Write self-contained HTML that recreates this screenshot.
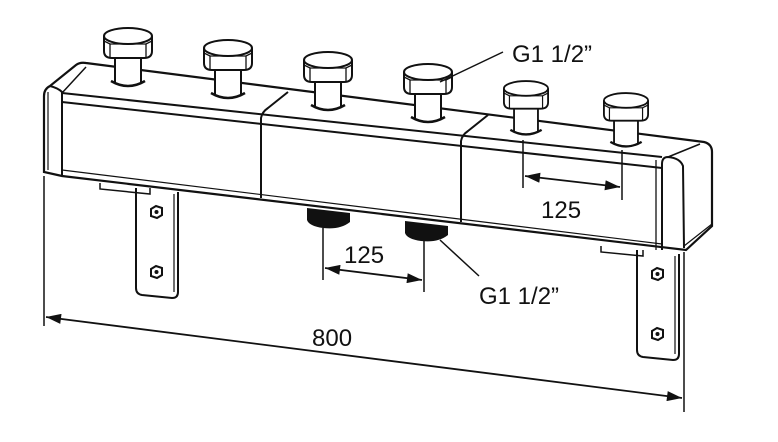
<!DOCTYPE html>
<html><head><meta charset="utf-8"><style>
html,body{margin:0;padding:0;background:#fff;}
svg{display:block;}
text{font-family:"Liberation Sans","DejaVu Sans",sans-serif;fill:#111;}
</style></head><body>
<svg width="778" height="442" viewBox="0 0 778 442" xmlns="http://www.w3.org/2000/svg">
<defs>
<marker id="ar" viewBox="0 0 12 8" refX="12" refY="4" markerWidth="18" markerHeight="10" markerUnits="userSpaceOnUse" orient="auto-start-reverse">
<path d="M0,0 L12,4 L0,8 Z" fill="#111"/>
</marker>
<g id="nut">
<path d="M-24,7 L-24,22 Q-24,29 -16,29 L16,29 Q24,29 24,22 L24,7" fill="#fff" stroke="#111" stroke-width="2"/>
<ellipse cx="0" cy="7" rx="24" ry="8" fill="#fff" stroke="#111" stroke-width="2"/>
<path d="M-24,12 L-18,15 L18,15 L24,12" fill="none" stroke="#111" stroke-width="1.3"/>
<line x1="-18" y1="15" x2="-18" y2="29" stroke="#111" stroke-width="1.3"/>
<line x1="18" y1="15" x2="18" y2="29" stroke="#111" stroke-width="1.3"/>
</g>
<g id="pipe">
<path d="M-13,26 L-13,52 Q0,58 13,52 L13,26" fill="#fff" stroke="#111" stroke-width="2"/>
<path d="M-17,50 Q0,60 17,50" fill="none" stroke="#111" stroke-width="2.5"/>
</g>
<g id="bracket">
<path d="M0,0 L0,100 Q0,106 6,107 L36,110 Q42,110 42,104 L42,4" fill="#fff" stroke="#111" stroke-width="2"/>
<line x1="38" y1="6" x2="38" y2="104" stroke="#111" stroke-width="1.2"/>
<polygon points="15,21 20,18 26,20 26,27 21,30 15,28" fill="#fff" stroke="#111" stroke-width="2"/>
<circle cx="20.5" cy="24" r="2" fill="#111"/>
<polygon points="15,81 20,78 26,80 26,87 21,90 15,88" fill="#fff" stroke="#111" stroke-width="2"/>
<circle cx="20.5" cy="84" r="2" fill="#111"/>
</g>
</defs>

<use href="#bracket" x="136" y="188"/>
<use href="#bracket" x="637" y="250"/>
<path d="M100,183 L100,189 L150,194 L150,188" fill="none" stroke="#111" stroke-width="1.5"/>
<path d="M601,246 L601,252 L643,256 L643,250" fill="none" stroke="#111" stroke-width="1.5"/>

<!-- body outline -->
<path d="M44,172 L44,96 Q44,89 50,86 L76,65 Q80,62 86,63 L704,142 Q712,144 712,152 L712,226 L686,250 L62,176 Z" fill="#fff" stroke="#111" stroke-width="2.2"/>
<!-- left end -->
<path d="M50,86 Q58,88 62,92 L62,176" fill="none" stroke="#111" stroke-width="2"/>
<path d="M48,92 L48,170" stroke="#111" stroke-width="1.2"/>
<path d="M62,93 L86,67" stroke="#111" stroke-width="1.5"/>
<!-- front top edges -->
<path d="M62,93 L662,157" fill="none" stroke="#111" stroke-width="2"/>
<path d="M62,102 L662,168" fill="none" stroke="#111" stroke-width="2"/>
<path d="M62,170 L662,244" fill="none" stroke="#111" stroke-width="1.2"/>
<!-- right end -->
<path d="M662,250 L662,164 Q662,157 668,157 Q680,158 683,166 L684,248" fill="none" stroke="#111" stroke-width="2"/>
<path d="M656,160 L656,250" stroke="#111" stroke-width="1.3"/>
<path d="M668,157 L700,144" stroke="#111" stroke-width="1.5"/>
<path d="M684,246 L712,224" stroke="#111" stroke-width="1.2"/>
<!-- dividers -->
<path d="M261,198 L261,118 Q262,112 268,108 L288,92" fill="none" stroke="#111" stroke-width="2"/>
<path d="M461,222 L461,141 Q462,135 468,131 L488,115" fill="none" stroke="#111" stroke-width="2"/>

<!-- pipes and nuts -->
<use href="#pipe" x="128" y="31"/><use href="#nut" x="128" y="29"/>
<use href="#pipe" x="228" y="43"/><use href="#nut" x="228" y="41"/>
<use href="#pipe" x="328" y="55"/><use href="#nut" x="328" y="53"/>
<use href="#pipe" x="428" y="67"/><use href="#nut" x="428" y="65"/>
<g transform="translate(526,82) scale(0.92)"><use href="#pipe" y="2"/><use href="#nut"/></g>
<g transform="translate(626,94) scale(0.92)"><use href="#pipe" y="2"/><use href="#nut"/></g>

<!-- bottom connectors -->
<path d="M307,208 L350,213 L350,222 Q340,230 323,228 Q309,226 307,220 Z" fill="#111"/>
<path d="M405,221 L448,226 L448,235 Q438,243 421,241 Q407,239 405,233 Z" fill="#111"/>

<!-- dimension 125 top -->
<line x1="523" y1="140" x2="523" y2="188" stroke="#111" stroke-width="1.5"/>
<line x1="622" y1="150" x2="622" y2="200" stroke="#111" stroke-width="1.5"/>
<line x1="525" y1="176" x2="620" y2="187" stroke="#111" stroke-width="1.8" marker-start="url(#ar)" marker-end="url(#ar)"/>
<text x="541" y="218" font-size="24">125</text>
<!-- dimension 125 bottom -->
<line x1="323" y1="228" x2="323" y2="280" stroke="#111" stroke-width="1.5"/>
<line x1="424" y1="241" x2="424" y2="292" stroke="#111" stroke-width="1.5"/>
<line x1="325" y1="268" x2="422" y2="280" stroke="#111" stroke-width="1.8" marker-start="url(#ar)" marker-end="url(#ar)"/>
<text x="344" y="263" font-size="24">125</text>
<!-- dimension 800 -->
<line x1="44" y1="176" x2="44" y2="326" stroke="#111" stroke-width="1.5"/>
<line x1="684" y1="252" x2="684" y2="412" stroke="#111" stroke-width="1.5"/>
<line x1="46" y1="317" x2="682" y2="398" stroke="#111" stroke-width="1.8" marker-start="url(#ar)" marker-end="url(#ar)"/>
<text x="312" y="346" font-size="24">800</text>

<!-- leaders -->
<line x1="440" y1="82" x2="503" y2="52" stroke="#111" stroke-width="1.5"/>
<text x="512" y="62" font-size="24">G1 1/2”</text>
<line x1="440" y1="240" x2="479" y2="276" stroke="#111" stroke-width="1.5"/>
<text x="479" y="304" font-size="24">G1 1/2”</text>
</svg>
</body></html>
